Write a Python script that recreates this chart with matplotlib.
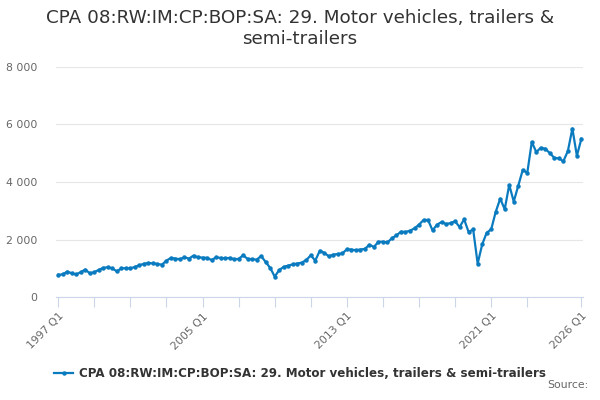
import matplotlib.pyplot as plt
from matplotlib.lines import Line2D

# quarterly categories 1997 Q1 .. 2026 Q1
quarters = [f"{y} Q{q}" for y in range(1997, 2026) for q in range(1, 5)] + ["2026 Q1"]

values = [
    780, 790, 890, 830, 790, 870, 960, 830, 870, 950, 1020, 1040,
    1000, 900, 1000, 1010, 1000, 1050, 1110, 1160, 1190, 1175,
    1155, 1130, 1270, 1365, 1340, 1320, 1385, 1340, 1445, 1385,
    1375, 1365, 1290, 1385, 1365, 1350, 1365, 1320, 1330, 1455,
    1330, 1320, 1305, 1430, 1220, 1020, 715,
    940, 1055, 1095, 1140, 1170, 1200, 1290, 1455, 1270, 1615,
    1540, 1420, 1480, 1500, 1520,
    1665, 1655, 1630, 1655, 1680, 1820, 1745, 1925, 1925, 1900,
    2050, 2145, 2275, 2265, 2310, 2390, 2520, 2680, 2680, 2320, 2520,
    2610, 2540, 2575, 2635, 2435, 2705, 2260, 2355, 1165, 1830,
    2240, 2355, 2960, 3420, 3055, 3900,
    3320, 3870, 4420, 4315, 5390, 5040, 5190, 5155, 5000, 4840,
    4820, 4720, 5075, 5855, 4910, 5505,
]

tick_quarters = [f"{y} Q1" for y in range(1997, 2024, 2)] + ["2026 Q1"]
labelled = ["1997 Q1", "2005 Q1", "2013 Q1", "2021 Q1", "2026 Q1"]
y_ticks = [0, 2000, 4000, 6000, 8000]
y_labels = ["0", "2 000", "4 000", "6 000", "8 000"]

title = "CPA 08:RW:IM:CP:BOP:SA: 29. Motor vehicles, trailers &\nsemi-trailers"
series_name = "CPA 08:RW:IM:CP:BOP:SA: 29. Motor vehicles, trailers & semi-trailers"

line_color = "#0b7bc0"
axis_color = "#ccd6eb"

plt.rcParams['font.family'] = ['DejaVu Sans']

fig = plt.figure(figsize=(6, 4), dpi=100)
ax = fig.add_axes([0.094, 0.257, 0.878, 0.576])

x = list(range(len(quarters)))
ax.plot(x, values, color=line_color, lw=1.6, marker='o', ms=2.2, zorder=3)

ax.set_xlim(-0.4, len(quarters) - 1 + 0.4)
ax.set_ylim(0, 8000)

ax.set_yticks(y_ticks)
ax.set_yticklabels(y_labels, color="#666666", fontsize=7.8)
ax.tick_params(axis='y', length=0, pad=14)
ax.grid(axis='y', color="#e6e6e6", lw=0.8)
ax.set_axisbelow(True)

tick_pos = [quarters.index(q) for q in tick_quarters]
ax.set_xticks(tick_pos)
ax.set_xticklabels([q if q in labelled else "" for q in tick_quarters],
                   rotation=45, ha='right', rotation_mode='anchor',
                   color="#666666", fontsize=7.8)
ax.tick_params(axis='x', length=7, color=axis_color, width=0.8, pad=3)

for s in ['top', 'right', 'left']:
    ax.spines[s].set_visible(False)
ax.spines['bottom'].set_color(axis_color)
ax.spines['bottom'].set_linewidth(0.8)

fig.text(0.5, 0.978, title, ha='center', va='top', fontsize=13.2,
         color="#333333", linespacing=1.25)

handle = Line2D([], [], color=line_color, lw=1.6, marker='o', ms=2.2)
fig.legend([handle], [series_name], loc='center', bbox_to_anchor=(0.5, 0.066),
           frameon=False, prop={'weight': 'bold', 'size': 8.6},
           labelcolor="#333333", handlelength=1.6, handletextpad=0.5)

fig.text(0.98, 0.025, "Source:", ha='right', va='bottom', fontsize=7.8,
         color="#666666")

fig.savefig("out.png", dpi=100)
